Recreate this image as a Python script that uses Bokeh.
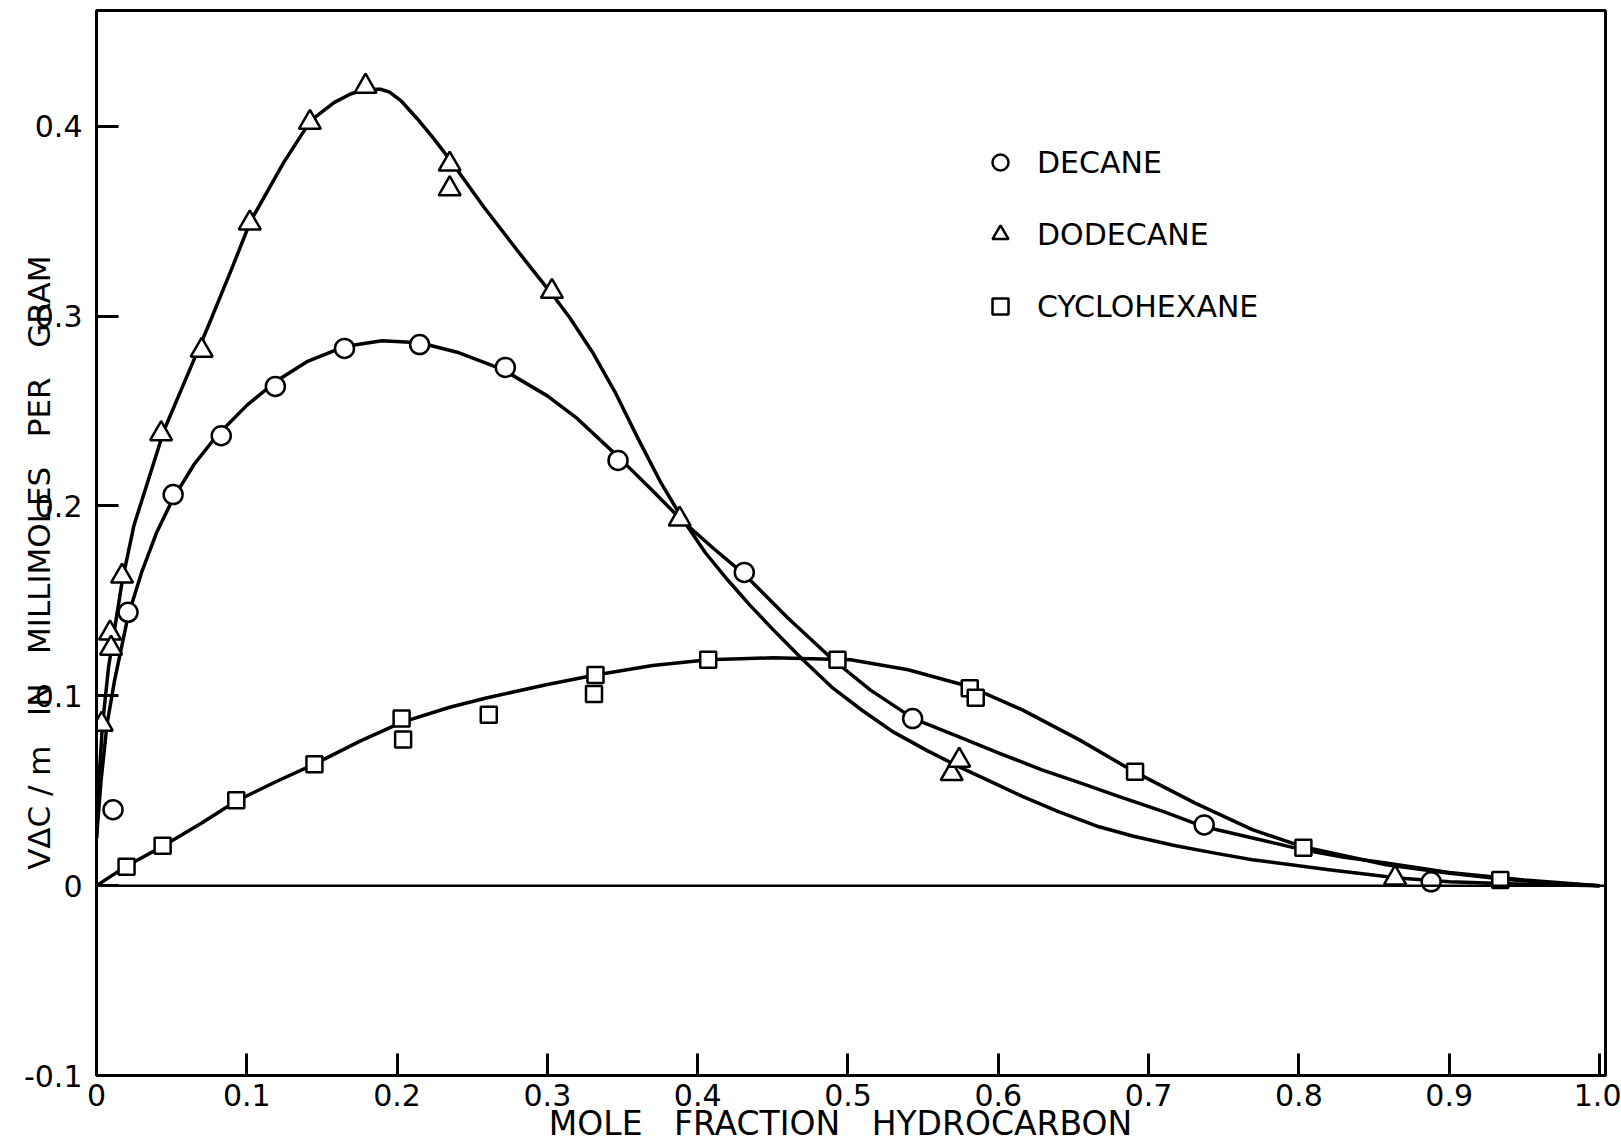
from bokeh.plotting import figure
from bokeh.models import (Range1d, FixedTicker, CustomJSTickFormatter, Span,
                          Legend, LegendItem)
from bokeh.embed import file_html
from bokeh.resources import INLINE

# ---- measured points ----
decane_x = [0.011, 0.021, 0.051, 0.083, 0.119, 0.165, 0.215, 0.272, 0.347, 0.431, 0.543, 0.737, 0.888]
decane_y = [0.040, 0.144, 0.206, 0.237, 0.263, 0.283, 0.285, 0.273, 0.224, 0.165, 0.088, 0.032, 0.002]

dodecane_x = [0.0035, 0.009, 0.0097, 0.017, 0.043, 0.070, 0.102, 0.142, 0.179, 0.235, 0.235, 0.303,
              0.388, 0.569, 0.574, 0.864]
dodecane_y = [0.085, 0.133, 0.125, 0.163, 0.238, 0.282, 0.349, 0.402, 0.421, 0.380, 0.367, 0.313,
              0.193, 0.059, 0.066, 0.004]

cyclo_x = [0.020, 0.044, 0.093, 0.145, 0.203, 0.204, 0.261, 0.332, 0.331, 0.407, 0.493, 0.581,
           0.585, 0.691, 0.803, 0.934]
cyclo_y = [0.010, 0.021, 0.045, 0.064, 0.088, 0.077, 0.090, 0.111, 0.101, 0.119, 0.119, 0.104,
           0.099, 0.060, 0.020, 0.003]

# ---- drawn smooth curves ----
dodecane_curve_x = [0.0, 0.002, 0.004, 0.008, 0.012, 0.017, 0.025, 0.035, 0.045, 0.06, 0.075, 0.09,
                    0.1025, 0.1246, 0.1425, 0.158, 0.169, 0.179, 0.189, 0.195, 0.2023, 0.2134,
                    0.2244, 0.2355, 0.2577, 0.2799, 0.29, 0.3032, 0.315, 0.33, 0.345, 0.36, 0.375,
                    0.39, 0.405, 0.42, 0.435, 0.45, 0.47, 0.49, 0.51, 0.53, 0.553, 0.573, 0.60,
                    0.616, 0.64, 0.667, 0.69, 0.718, 0.745, 0.769, 0.82, 0.866, 0.90, 0.95, 1.0]
dodecane_curve_y = [0.025, 0.060, 0.085, 0.115, 0.135, 0.160, 0.190, 0.215, 0.240, 0.268, 0.296, 0.325,
                    0.350, 0.381, 0.403, 0.4125, 0.417, 0.4195, 0.4195, 0.418, 0.4137, 0.404,
                    0.3935, 0.382, 0.3575, 0.3347, 0.3245, 0.3115, 0.299, 0.281, 0.260, 0.236, 0.213,
                    0.193, 0.1755, 0.161, 0.1475, 0.135, 0.119, 0.104, 0.092, 0.081, 0.071, 0.063,
                    0.053, 0.047, 0.039, 0.031, 0.026, 0.021, 0.017, 0.0137, 0.0084, 0.004, 0.002,
                    0.0007, 0.0]

decane_curve_x = [0.0, 0.003, 0.007, 0.012, 0.021, 0.03, 0.04, 0.051, 0.065, 0.08, 0.10, 0.12, 0.14,
                  0.165, 0.19, 0.215, 0.24, 0.27, 0.30, 0.32, 0.347, 0.37, 0.39, 0.41, 0.431, 0.46,
                  0.49, 0.515, 0.5436, 0.578, 0.60, 0.629, 0.655, 0.68, 0.71, 0.737, 0.77, 0.802,
                  0.83, 0.858, 0.90, 0.95, 1.0]
decane_curve_y = [0.025, 0.055, 0.085, 0.108, 0.142, 0.165, 0.186, 0.204, 0.222, 0.237, 0.253, 0.266,
                  0.276, 0.284, 0.287, 0.286, 0.281, 0.272, 0.258, 0.246, 0.226, 0.208, 0.192, 0.178,
                  0.164, 0.141, 0.119, 0.103, 0.088, 0.077, 0.070, 0.061, 0.054, 0.047, 0.039, 0.031,
                  0.025, 0.019, 0.015, 0.012, 0.007, 0.003, 0.0]

cyclo_curve_x = [0.0, 0.02, 0.044, 0.07, 0.093, 0.12, 0.145, 0.175, 0.203, 0.235, 0.26, 0.30, 0.332,
                 0.37, 0.407, 0.45, 0.5017, 0.54, 0.5806, 0.616, 0.654, 0.690, 0.731, 0.769, 0.802,
                 0.858, 0.899, 0.935, 0.97, 1.0]
cyclo_curve_y = [0.0, 0.0104, 0.0207, 0.033, 0.0446, 0.055, 0.064, 0.076, 0.086, 0.094, 0.099, 0.106,
                 0.111, 0.116, 0.119, 0.120, 0.119, 0.1137, 0.1049, 0.0926, 0.0768, 0.0602, 0.0435,
                 0.0295, 0.0207, 0.011, 0.0067, 0.0035, 0.0012, 0.0]

x_ticks = [0.0, 0.1, 0.2, 0.3, 0.4, 0.5, 0.6, 0.7, 0.8, 0.9, 1.0]
y_ticks = [-0.1, 0.0, 0.1, 0.2, 0.3, 0.4]
series_names = ["DECANE", "DODECANE", "CYCLOHEXANE"]

FONT = "DejaVu Sans"
nb = "\u00a0"
xtitle = f"MOLE{nb*3}FRACTION{nb*3}HYDROCARBON{nb*2}"
ytitle = f"VΔC{nb}/{nb}m{nb*3}IN{nb*3}MILLIMOLES{nb*3}PER{nb*3}GRAM{nb*4}"

p = figure(width=1621, height=1145, x_range=Range1d(0.0, 1.004), y_range=Range1d(-0.1, 0.461),
           output_backend="svg", toolbar_location=None,
           min_border_left=96, min_border_right=16, min_border_top=10, min_border_bottom=69)
p.grid.visible = False
p.background_fill_color = "white"
p.border_fill_color = "white"
p.outline_line_color = "black"
p.outline_line_width = 3

fmt = CustomJSTickFormatter(code="return tick == 0 ? '0' : tick.toFixed(1);")
for ax, ticks in ((p.xaxis[0], x_ticks), (p.yaxis[0], y_ticks)):
    ax.ticker = FixedTicker(ticks=ticks)
    ax.formatter = fmt
    ax.axis_line_width = 3
    ax.major_tick_line_width = 3
    ax.major_tick_in = 22
    ax.major_tick_out = 0
    ax.minor_tick_line_color = None
    ax.major_label_text_font = FONT
    ax.major_label_text_font_size = "30px"
    ax.major_label_text_color = "black"
    ax.axis_label_text_font = FONT
    ax.axis_label_text_font_style = "normal"
    ax.axis_label_text_color = "black"

p.xaxis[0].major_label_standoff = 8
p.xaxis[0].axis_label = xtitle
p.xaxis[0].axis_label_text_font_size = "33px"
p.xaxis[0].axis_label_standoff = -5

p.yaxis[0].major_label_standoff = 14
p.yaxis[0].axis_label = ytitle
p.yaxis[0].axis_label_text_font_size = "31px"
p.yaxis[0].axis_label_standoff = -36

p.add_layout(Span(location=0, dimension="width", line_color="black", line_width=2.5))

lw = 3.5
p.line(dodecane_curve_x, dodecane_curve_y, line_color="black", line_width=lw, line_join="round")
p.line(decane_curve_x, decane_curve_y, line_color="black", line_width=lw, line_join="round")
p.line(cyclo_curve_x, cyclo_curve_y, line_color="black", line_width=lw, line_join="round")

r_dec = p.scatter(decane_x, decane_y, marker="circle", size=19, fill_color="white",
                  line_color="black", line_width=2.5)
r_dod = p.scatter(dodecane_x, dodecane_y, marker="triangle", size=22, fill_color="white",
                  line_color="black", line_width=2.5)
r_cyc = p.scatter(cyclo_x, cyclo_y, marker="square", size=16, fill_color="white",
                  line_color="black", line_width=2.5)

legend = Legend(items=[LegendItem(label=series_names[0], renderers=[r_dec]),
                       LegendItem(label=series_names[1], renderers=[r_dod]),
                       LegendItem(label=series_names[2], renderers=[r_cyc])],
                location=(884, 749), border_line_color=None, background_fill_alpha=0,
                glyph_width=40, glyph_height=40, spacing=32, label_standoff=17,
                padding=0, margin=0, label_text_font=FONT, label_text_font_size="30px",
                label_text_color="black")
p.add_layout(legend)

open("out.html", "w").write(file_html(p, INLINE))
